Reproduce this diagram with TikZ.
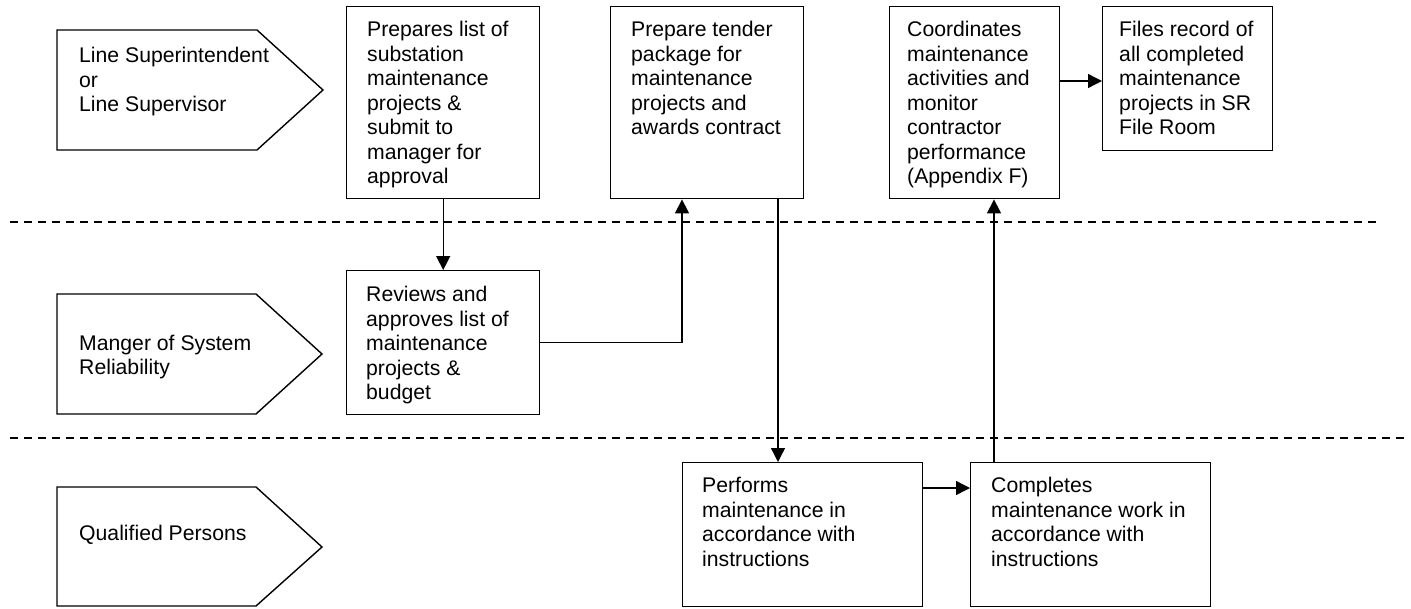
\documentclass[tikz,border=0pt]{standalone}
\usepackage{fontspec}
\setmainfont{Liberation Sans}
\usetikzlibrary{arrows.meta,calc}
\begin{document}
\begin{tikzpicture}[x=1pt,y=-1pt,
  box/.style={draw, line width=1.4pt, inner sep=0pt, anchor=north west},
  lane/.style={draw, line width=1.4pt, line join=miter},
  txt/.style={inner sep=0pt, anchor=north west, align=left, font=\fontsize{21.2}{24.5}\selectfont},
  arr/.style={line width=1.4pt, -{Triangle[length=14pt,width=14pt]}},
  sep/.style={line width=1.4pt, dash pattern=on 8pt off 6pt}]
\useasboundingbox (0,0) rectangle (1411,608);
\newcommand{\fl}{\rule{0pt}{18pt}}
% swimlane separators
\coordinate (s1a) at (10,222);
\coordinate (s1b) at (1376,222);
\coordinate (s2a) at (10,438);
\coordinate (s2b) at (1404,438);
\draw[sep] (s1a) -- (s1b);
\draw[sep] (s2a) -- (s2b);
% lane labels
\draw[lane] (57,30) -- (257,30) -- (323,90) -- (257,150) -- (57,150) -- cycle;
\draw[lane] (57,294) -- (256,294) -- (322,354) -- (256,414) -- (57,414) -- cycle;
\draw[lane] (57,487) -- (256,487) -- (322,547) -- (256,606) -- (57,606) -- cycle;
\node[txt] (l1) at (79,44.3) {\fl Line Superintendent\\or\\Line Supervisor};
\node[txt] (l2) at (79,332) {\fl Manger of System\\Reliability};
\node[txt] (l3) at (79,522.7) {\fl Qualified Persons};
% process boxes
\node[box, minimum width=193pt, minimum height=192pt] (b1) at (346,6) {};
\node[box, minimum width=193pt, minimum height=192pt] (b2) at (610,6) {};
\node[box, minimum width=170pt, minimum height=192pt] (b3) at (889,6) {};
\node[box, minimum width=170pt, minimum height=144pt] (b4) at (1102,6) {};
\node[box, minimum width=193pt, minimum height=144pt] (rv) at (346,270) {};
\node[box, minimum width=240pt, minimum height=144pt] (pf) at (682,462) {};
\node[box, minimum width=240pt, minimum height=144pt] (cp) at (970,462) {};
% box texts
\node[txt] (t1) at (367,18.7) {\fl Prepares list of\\substation\\maintenance\\projects \&\\submit to\\manager for\\approval};
\node[txt] (t2) at (631,18.7) {\fl Prepare tender\\package for\\maintenance\\projects and\\awards contract};
\node[txt] (t3) at (907,18.5) {\fl Coordinates\\maintenance\\activities and\\monitor\\contractor\\performance\\(Appendix F)};
\node[txt] (t4) at (1119,18.5) {\fl Files record of\\all completed\\maintenance\\projects in SR\\File Room};
\node[txt] (tr) at (366,283.7) {\fl Reviews and\\approves list of\\maintenance\\projects \&\\budget};
\node[txt] (tp) at (702,474.7) {\fl Performs\\maintenance in\\accordance with\\instructions};
\node[txt] (tc) at (991,474.7) {\fl Completes\\maintenance work in\\accordance with\\instructions};
% connectors
\draw[arr] (b1.south) -- (rv.north);
\draw[arr] (rv.east) -| ($(b2.south west)+(72,0)$);
\draw[arr] ($(b2.south west)+(168,0)$) -- ($(pf.north west)+(96,0)$);
\draw[arr] ($(pf.north east)+(0,26)$) -- ($(cp.north west)+(0,26)$);
\draw[arr] ($(cp.north west)+(24,0)$) -- ($(b3.south west)+(105,0)$);
\draw[arr] ($(b3.north east)+(0,75)$) -- ($(b4.north west)+(0,75)$);
\end{tikzpicture}
\end{document}
